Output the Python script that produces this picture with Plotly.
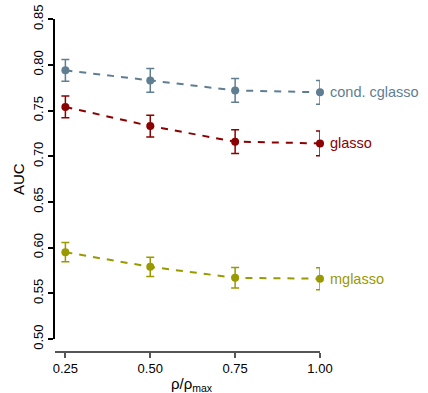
import plotly.graph_objects as go

rho = [0.25, 0.50, 0.75, 1.00]
tick_labels = ["0.25", "0.50", "0.75", "1.00"]

series_names = ["cond. cglasso", "glasso", "mglasso"]
cglasso_auc = [0.794, 0.783, 0.772, 0.770]
cglasso_err = [0.012, 0.013, 0.013, 0.013]
glasso_auc = [0.754, 0.733, 0.716, 0.714]
glasso_err = [0.012, 0.012, 0.013, 0.0135]
mglasso_auc = [0.595, 0.579, 0.567, 0.566]
mglasso_err = [0.0105, 0.0106, 0.0113, 0.012]

y_ticks = [0.50, 0.55, 0.60, 0.65, 0.70, 0.75, 0.80, 0.85]

colors = ["#5F7E92", "#8B0000", "#999900"]
values = [cglasso_auc, glasso_auc, mglasso_auc]
errors = [cglasso_err, glasso_err, mglasso_err]

fig = go.Figure()
for name, vals, errs, col in zip(series_names, values, errors, colors):
    fig.add_trace(go.Scatter(
        x=rho, y=vals, mode="lines+markers", name=name,
        line=dict(color=col, width=2, dash="7px,7px"),
        marker=dict(color=col, size=8),
        error_y=dict(type="data", array=errs, color=col, thickness=1.5, width=4),
        cliponaxis=False, showlegend=False,
    ))
    fig.add_annotation(
        x=rho[-1], y=vals[-1], xref="x", yref="y", text=name,
        showarrow=False, xanchor="left", yanchor="middle", xshift=8,
        font=dict(color=col, size=14.5, family="Liberation Sans, Arial"),
    )

fig.add_annotation(
    x=0.5, y=0, xref="paper", yref="paper", text="ρ/ρ<sub>max</sub>",
    showarrow=False, xanchor="center", yanchor="middle", yshift=-32, xshift=4,
    font=dict(size=15, family="Liberation Sans, Arial", color="black"),
)
fig.add_annotation(
    x=0, y=0.5195, xref="paper", yref="paper", text="AUC", textangle=-90,
    showarrow=False, xanchor="center", yanchor="middle", xshift=-37,
    font=dict(size=15, family="Liberation Sans, Arial", color="black"),
)

fig.update_layout(
    width=428, height=393,
    margin=dict(l=55.3, r=107.7, t=19, b=41, autoexpand=False),
    plot_bgcolor="white", paper_bgcolor="white",
    font=dict(family="Liberation Sans, Arial", color="black"),
    xaxis=dict(
        range=[0.2194, 1.0], tickvals=rho, ticktext=tick_labels,
        showline=True, linecolor="#555555", linewidth=1.5,
        ticks="outside", ticklen=5, tickcolor="#555555", tickwidth=1.5,
        showgrid=False, zeroline=False, tickfont=dict(size=13),
        anchor="free", position=0, automargin=False,
        ticklabeloverflow="allow",
    ),
    yaxis=dict(
        range=[0.50, 0.8502], domain=[0.039, 1.0], tickvals=y_ticks,
        ticktext=[f"{v:.2f}" for v in y_ticks], tickangle=-90,
        showline=True, linecolor="black", linewidth=1.5,
        ticks="outside", ticklen=5, tickcolor="black", tickwidth=1.5,
        showgrid=False, zeroline=False, tickfont=dict(size=13),
        automargin=False, ticklabeloverflow="allow",
    ),
)

# remove the page's default body margin so the figure fills the window exactly
fig.write_html(
    "out.html",
    config={"displayModeBar": False},
    post_script="document.body.style.margin='0';document.body.style.overflow='hidden';",
)
